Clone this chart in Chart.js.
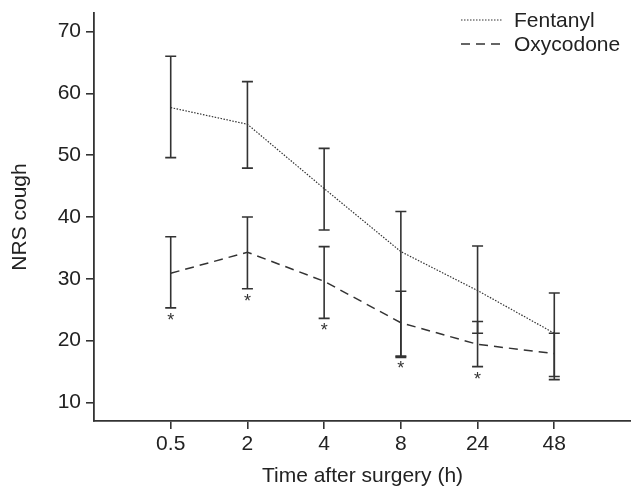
<!DOCTYPE html>
<html lang="en">
<head>
    <meta charset="UTF-8">
    <title>NRS cough after surgery</title>
    <script src="https://cdn.jsdelivr.net/npm/chart.js"></script>
    <style>
        body {
            margin: 0;
            background: #fff;
        }
        canvas {
            display: block;
        }
    </style>
</head>
<body>
    <canvas id="nrsChart" width="631" height="488"></canvas>

    <script>
        // time points (h)
        const timeLabels = ['0.5', '2', '4', '8', '24', '48'];

        // Fentanyl: mean and error bar ends
        const fentanylMean = [57.7, 55.0, 44.6, 34.4, 28.1, 21.2];
        const fentanylHigh = [66.0, 61.9, 51.1, 40.9, 35.3, 27.7];
        const fentanylLow = [49.6, 47.9, 37.9, 17.3, 21.2, 13.7];

        // Oxycodone: mean and error bar ends
        const oxyMean = [30.9, 34.3, 29.6, 22.9, 19.4, 17.9];
        const oxyHigh = [36.8, 40.0, 35.2, 28.0, 23.1, 21.2];
        const oxyLow = [25.3, 28.4, 23.6, 17.5, 15.8, 14.2];

        // significant difference marks
        const significant = [true, true, true, true, true, false];

        const yTicks = [10, 20, 30, 40, 50, 60, 70];

        const ink = '#333333';
        const fontFamily = '"Liberation Sans", Arial, sans-serif';

        function toPoints(values) {
            return values.map((v, i) => ({ x: i + 1, y: v }));
        }

        // draws vertical error bars with caps
        const errorBars = {
            id: 'errorBars',
            afterDatasetsDraw(chart) {
                const ctx = chart.ctx;
                const xs = chart.scales.x;
                const ys = chart.scales.y;
                chart.data.datasets.forEach(ds => {
                    ctx.save();
                    ctx.strokeStyle = ink;
                    ctx.lineWidth = 1.6;
                    ctx.setLineDash([]);
                    ds.low.forEach((lo, i) => {
                        const x = xs.getPixelForValue(i + 1);
                        const yHi = ys.getPixelForValue(ds.high[i]);
                        const yLo = ys.getPixelForValue(lo);
                        ctx.beginPath();
                        ctx.moveTo(x, yHi);
                        ctx.lineTo(x, yLo);
                        ctx.moveTo(x - 5.5, yHi);
                        ctx.lineTo(x + 5.5, yHi);
                        ctx.moveTo(x - 5.5, yLo);
                        ctx.lineTo(x + 5.5, yLo);
                        ctx.stroke();
                    });
                    ctx.restore();
                });

                // asterisks under the oxycodone bars
                ctx.save();
                ctx.fillStyle = ink;
                ctx.font = '18px ' + fontFamily;
                ctx.textAlign = 'center';
                ctx.textBaseline = 'top';
                significant.forEach((s, i) => {
                    if (!s) return;
                    const x = xs.getPixelForValue(i + 1);
                    const y = ys.getPixelForValue(oxyLow[i]);
                    ctx.fillText('*', x, y + 4);
                });
                ctx.restore();
            }
        };

        // legend in the top right corner
        const cornerLegend = {
            id: 'cornerLegend',
            afterDraw(chart) {
                const ctx = chart.ctx;
                const rows = [20, 44];
                ctx.save();
                ctx.font = '21px ' + fontFamily;
                ctx.fillStyle = '#222';
                ctx.textBaseline = 'middle';
                chart.data.datasets.forEach((ds, i) => {
                    const y = rows[i];
                    ctx.strokeStyle = ink;
                    ctx.lineWidth = ds.borderWidth;
                    ctx.setLineDash(ds.borderDash);
                    ctx.beginPath();
                    ctx.moveTo(461, y);
                    ctx.lineTo(502, y);
                    ctx.stroke();
                    ctx.fillText(ds.label, 514, y + 1);
                });
                ctx.restore();
            }
        };

        const ctx = document.getElementById('nrsChart').getContext('2d');

        new Chart(ctx, {
            type: 'line',
            data: {
                datasets: [{
                    label: 'Fentanyl',
                    data: toPoints(fentanylMean),
                    high: fentanylHigh,
                    low: fentanylLow,
                    borderColor: ink,
                    borderWidth: 1.2,
                    borderDash: [1.5, 1.5],
                    pointRadius: 0,
                    tension: 0,
                    fill: false
                }, {
                    label: 'Oxycodone',
                    data: toPoints(oxyMean),
                    high: oxyHigh,
                    low: oxyLow,
                    borderColor: ink,
                    borderWidth: 1.5,
                    borderDash: [9, 6],
                    pointRadius: 0,
                    tension: 0,
                    fill: false
                }]
            },
            options: {
                responsive: false,
                animation: false,
                layout: {
                    padding: { top: 13, right: 0, bottom: 0, left: 0 }
                },
                plugins: {
                    legend: { display: false },
                    tooltip: { enabled: false }
                },
                scales: {
                    x: {
                        type: 'linear',
                        min: 0,
                        max: 7,
                        afterBuildTicks(scale) {
                            scale.ticks = timeLabels.map((t, i) => ({ value: i + 1 }));
                        },
                        afterFit(scale) {
                            scale.height = 67;
                            scale.paddingLeft = 0;
                            scale.paddingRight = 0;
                        },
                        ticks: {
                            callback: (value) => timeLabels[value - 1],
                            color: '#222',
                            font: { family: fontFamily, size: 21 },
                            padding: 3,
                            maxRotation: 0
                        },
                        grid: {
                            drawOnChartArea: false,
                            color: ink,
                            lineWidth: 1.6,
                            tickLength: 8
                        },
                        border: { color: ink, width: 1.8 },
                        title: {
                            display: true,
                            text: 'Time after surgery (h)',
                            color: '#222',
                            font: { family: fontFamily, size: 21, lineHeight: 1.1 },
                            padding: { top: 0, bottom: 0 }
                        }
                    },
                    y: {
                        min: 7,
                        max: 73,
                        afterBuildTicks(scale) {
                            scale.ticks = yTicks.map(v => ({ value: v }));
                        },
                        afterFit(scale) {
                            scale.width = 94;
                            scale.paddingTop = 0;
                            scale.paddingBottom = 0;
                        },
                        ticks: {
                            color: '#222',
                            font: { family: fontFamily, size: 21 },
                            padding: 5
                        },
                        grid: {
                            drawOnChartArea: false,
                            color: ink,
                            lineWidth: 1.6,
                            tickLength: 8
                        },
                        border: { color: ink, width: 1.8 },
                        title: {
                            display: true,
                            text: 'NRS cough',
                            color: '#222',
                            font: { family: fontFamily, size: 21, lineHeight: 1.1 },
                            padding: { top: 9, bottom: 0 }
                        }
                    }
                }
            },
            plugins: [errorBars, cornerLegend]
        });
    </script>
</body>
</html>
